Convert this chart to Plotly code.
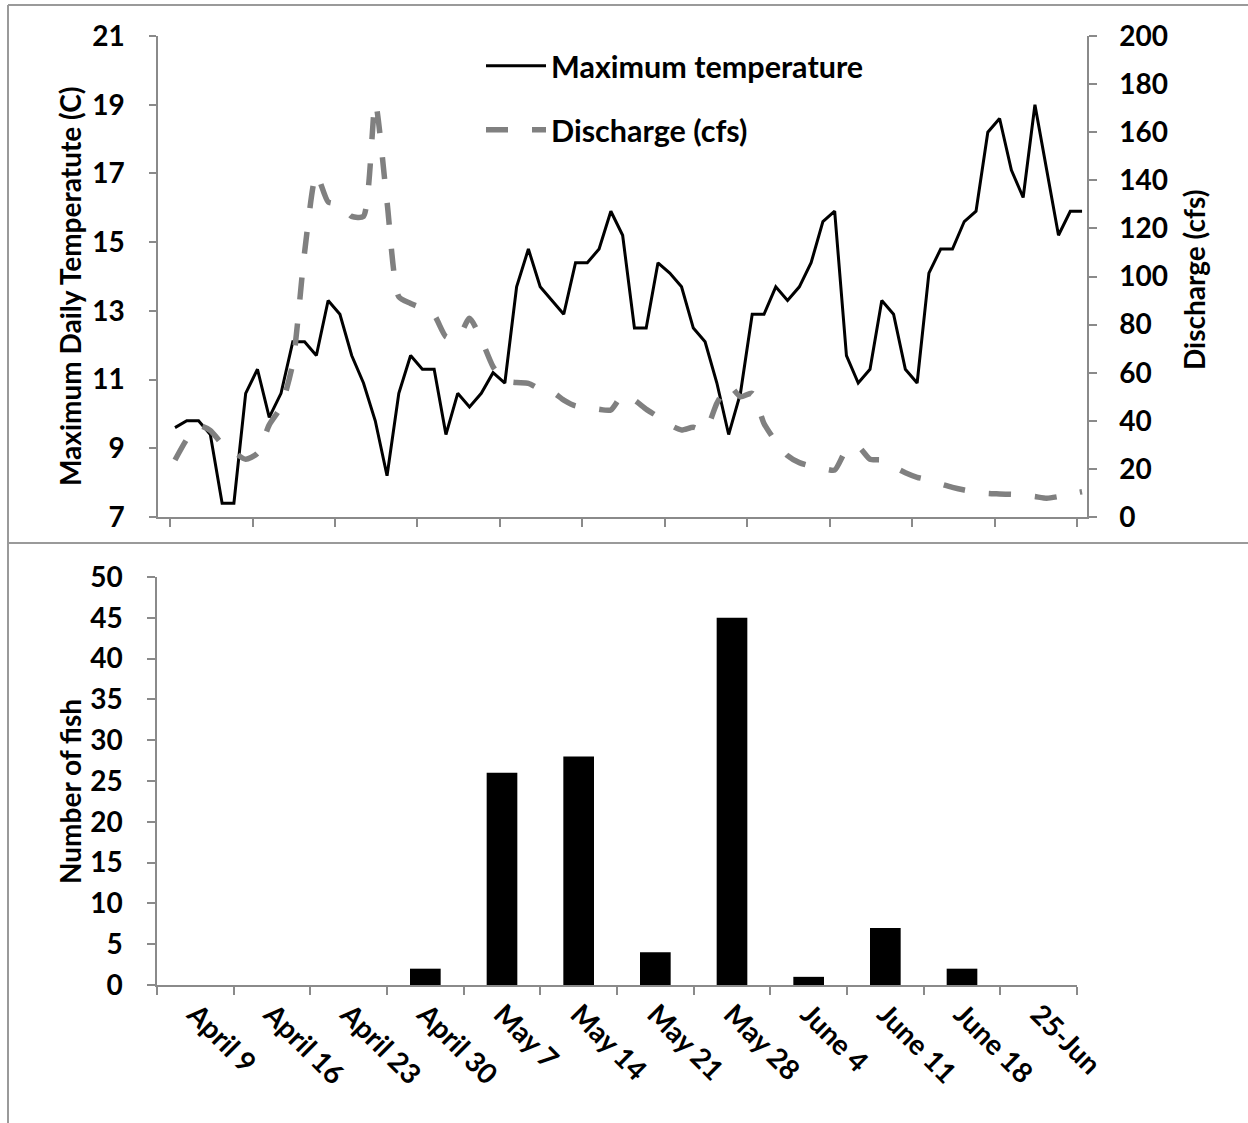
import pandas as pd
import plotly.graph_objects as go

# ---------------- data ----------------
start_date = "2012-04-09"
n_days = 78
dates = pd.date_range(start_date, periods=n_days, freq="D")

max_temp = [9.6, 9.8, 9.8, 9.4, 7.4, 7.4, 10.6, 11.3, 9.9, 10.6,
            12.1, 12.1, 11.7, 13.3, 12.9, 11.7, 10.9, 9.8, 8.2, 10.6,
            11.7, 11.3, 11.3, 9.4, 10.6, 10.2, 10.6, 11.2, 10.9, 13.7,
            14.8, 13.7, 13.3, 12.9, 14.4, 14.4, 14.8, 15.9, 15.2, 12.5,
            12.5, 14.4, 14.1, 13.7, 12.5, 12.1, 10.9, 9.4, 10.6, 12.9,
            12.9, 13.7, 13.3, 13.7, 14.4, 15.6, 15.9, 11.7, 10.9, 11.3,
            13.3, 12.9, 11.3, 10.9, 14.1, 14.8, 14.8, 15.6, 15.9, 18.2,
            18.6, 17.1, 16.3, 19.0, 17.1, 15.2, 15.9, 15.9]

discharge = [23.7, 32.3, 38.0, 36.0, 30.4, 27.0, 24.0, 26.5, 38.3, 45.9,
             63.9, 110.0, 142.6, 131.0, 130.0, 125.0, 125.0, 172.3, 131.0, 91.6,
             88.8, 86.8, 84.0, 75.0, 74.3, 82.6, 73.9, 62.5, 56.7, 55.9,
             55.6, 53.1, 52.1, 48.6, 46.2, 45.9, 44.8, 44.5, 50.7, 48.6,
             44.8, 41.7, 38.3, 36.2, 37.3, 35.9, 47.3, 54.9, 50.0, 51.4,
             38.9, 31.3, 25.5, 22.6, 21.2, 20.2, 19.5, 27.9, 29.2, 24.0,
             23.7, 20.9, 18.4, 16.5, 15.4, 13.7, 12.3, 11.2, 10.4, 9.8,
             9.6, 9.4, 9.1, 8.5, 7.8, 8.5, 9.6, 10.5]

week_labels = ["April 9", "April 16", "April 23", "April 30", "May 7", "May 14",
               "May 21", "May 28", "June 4", "June 11", "June 18", "25-Jun"]
fish_counts = [0, 0, 0, 2, 26, 28, 4, 45, 1, 7, 2, 0]

temp_ticks = [7, 9, 11, 13, 15, 17, 19, 21]
discharge_ticks = [0, 20, 40, 60, 80, 100, 120, 140, 160, 180, 200]
fish_ticks = [0, 5, 10, 15, 20, 25, 30, 35, 40, 45, 50]

# ---------------- style ----------------
W, H = 1248, 1123
FONT = "Lato"
AX_COL = "#8a8a8a"
TICK_FONT = dict(family=FONT, size=28, color="black", weight="bold")
TITLE_FONT = dict(family=FONT, size=28, color="black", weight="bold")
LEGEND_FONT = dict(family=FONT, size=30.5, color="black", weight="bold")


def px_x(p):
    return p / W


def px_y(p):
    return 1 - p / H


fig = go.Figure()

fig.add_trace(go.Scatter(
    x=dates, y=max_temp, name="Maximum temperature", mode="lines",
    line=dict(color="black", width=3), xaxis="x", yaxis="y", legend="legend"))

fig.add_trace(go.Scatter(
    x=dates, y=discharge, name="Discharge (cfs)", mode="lines",
    line=dict(color="#808080", width=5.5, dash="22px,24px", shape="spline", smoothing=0.6),
    xaxis="x", yaxis="y2", legend="legend2"))

fig.add_trace(go.Bar(
    x=week_labels, y=fish_counts, marker=dict(color="black", line=dict(width=0)),
    xaxis="x2", yaxis="y3", showlegend=False))

day = pd.Timedelta(days=1)
t0 = pd.Timestamp(start_date)

axis_common = dict(showline=True, linecolor=AX_COL, linewidth=1.5, ticks="outside",
                   tickwidth=1.5, tickcolor=AX_COL, showgrid=False,
                   zeroline=False, automargin=False)

fig.update_layout(
    width=W, height=H, margin=dict(l=0, r=0, t=0, b=0, pad=0, autoexpand=False),
    paper_bgcolor="white", plot_bgcolor="white",
    bargap=0.6,
    xaxis=dict(domain=[px_x(158), px_x(1087)], anchor="y", type="date",
               range=[t0 - 1.443 * day, t0 + 77.42 * day],
               tick0=t0 - 0.42 * day, dtick=7 * 86400000, ticklen=8,
               showticklabels=False, **axis_common),
    yaxis=dict(domain=[px_y(517), px_y(36)], range=[7, 21], tickvals=temp_ticks,
               anchor="x", ticklen=7, ticklabelstandoff=19, tickfont=TICK_FONT, **axis_common),
    yaxis2=dict(overlaying="y", side="right", range=[0, 200], tickvals=discharge_ticks,
                anchor="x", ticklen=8, ticklabelstandoff=17, tickfont=TICK_FONT, **axis_common),
    xaxis2=dict(domain=[px_x(157), px_x(1077)], anchor="y3", type="category",
                tickson="boundaries", tickangle=45, ticklen=8, tickfont=TICK_FONT, **axis_common),
    yaxis3=dict(domain=[px_y(985), px_y(577)], range=[0, 50], tickvals=fish_ticks,
                anchor="x2", ticklen=8, ticklabelstandoff=19, tickfont=TICK_FONT, **axis_common),
    legend=dict(x=px_x(481), y=px_y(66), xanchor="left", yanchor="middle",
                font=LEGEND_FONT, bgcolor="rgba(0,0,0,0)", itemwidth=60),
    legend2=dict(x=px_x(481), y=px_y(130), xanchor="left", yanchor="middle",
                 font=LEGEND_FONT, bgcolor="rgba(0,0,0,0)", itemwidth=60),
    showlegend=True,
)

# axis titles
title_kw = dict(xref="paper", yref="paper", showarrow=False, textangle=-90,
                xanchor="center", yanchor="middle", font=TITLE_FONT)
fig.add_annotation(text="Maximum Daily Temperatute (C)", x=px_x(70), y=px_y(287), **title_kw)
fig.add_annotation(text="Discharge (cfs)", x=px_x(1194), y=px_y(280), **title_kw)
fig.add_annotation(text="Number of fish", x=px_x(70), y=px_y(792), **title_kw)

# chart-area borders
border = dict(color="#9a9a9a", width=2)
fig.add_shape(type="line", xref="paper", yref="paper", x0=px_x(8), x1=1, y0=px_y(5), y1=px_y(5), line=border)
fig.add_shape(type="line", xref="paper", yref="paper", x0=px_x(8), x1=px_x(8), y0=0, y1=px_y(5), line=border)
fig.add_shape(type="line", xref="paper", yref="paper", x0=px_x(8), x1=1, y0=px_y(543), y1=px_y(543), line=border)

fig.write_html("out.html")
